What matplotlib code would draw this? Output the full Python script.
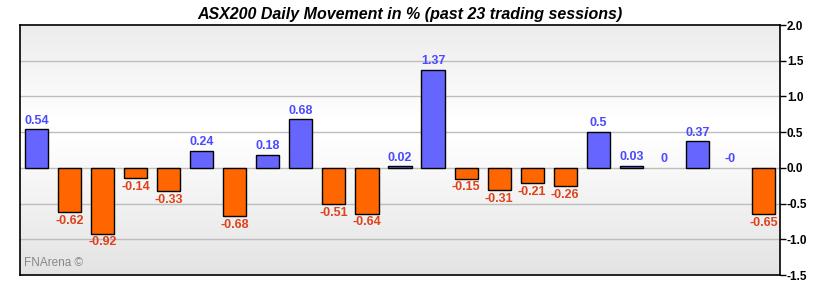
import numpy as np
import matplotlib
matplotlib.use("Agg")
import matplotlib.pyplot as plt
from matplotlib.colors import LinearSegmentedColormap

plt.rcParams['font.family'] = ['Liberation Sans', 'DejaVu Sans']

TITLE = "ASX200 Daily Movement in % (past 23 trading sessions)"
values = [0.54, -0.62, -0.92, -0.14, -0.33, 0.24, -0.68, 0.18, 0.68, -0.51, -0.64, 0.02,
          1.37, -0.15, -0.31, -0.21, -0.26, 0.5, 0.03, 0, 0.37, -0.0, -0.65]
labels = ["0.54", "-0.62", "-0.92", "-0.14", "-0.33", "0.24", "-0.68", "0.18", "0.68", "-0.51",
          "-0.64", "0.02", "1.37", "-0.15", "-0.31", "-0.21", "-0.26", "0.5", "0.03", "0", "0.37",
          "-0", "-0.65"]
yticks = [-1.5, -1.0, -0.5, 0.0, 0.5, 1.0, 1.5, 2.0]

UP, DOWN = "#6666ff", "#ff6600"
UP_TXT, DOWN_TXT = "#4a4aff", "#e0401a"

fig = plt.figure(figsize=(8.2, 2.9), dpi=100)
ax = fig.add_axes([20 / 820, 15 / 290, 760 / 820, 250 / 290])
ymin, ymax = -1.5, 2.0
n = len(values)
ax.set_xlim(-0.5, n - 0.5)
ax.set_ylim(ymin, ymax)

# background gradient: grey top, white middle, grey bottom
grad = LinearSegmentedColormap.from_list("bg", [(0, "#e3e3e3"), (0.55, "#ffffff"),
                                                (0.62, "#ffffff"), (1, "#ececec")])
ax.imshow(np.linspace(0, 1, 256).reshape(-1, 1), aspect="auto", cmap=grad,
          extent=[-0.5, n - 0.5, ymin, ymax], origin="lower", zorder=0)

for y in yticks[1:-1]:
    ax.axhline(y, color="#bdbdbd", lw=1, zorder=1)

x = np.arange(n)
colors = [UP if not labels[i].startswith("-") else DOWN for i in range(n)]
edges = ["black" if v != 0 else "none" for v in values]
ax.bar(x, values, width=0.7, color=colors, edgecolor=edges, linewidth=1, zorder=2)

for i, v in enumerate(values):
    neg = labels[i].startswith("-")
    if neg and v != 0:
        ax.annotate(labels[i], (i, v), xytext=(0, -2), textcoords="offset points",
                    ha="center", va="top", fontsize=9, fontweight="bold", color=DOWN_TXT)
    else:
        ax.annotate(labels[i], (i, v), xytext=(0, 2), textcoords="offset points",
                    ha="center", va="bottom", fontsize=9, fontweight="bold", color=UP_TXT)

ax.yaxis.tick_right()
ax.set_yticks(yticks)
ax.set_yticklabels([f"{t:.1f}" for t in yticks], fontsize=8.5, fontweight="bold")
ax.tick_params(axis="y", direction="out", length=4, width=1, pad=1)
ax.set_xticks([])
for s in ax.spines.values():
    s.set_linewidth(1.2)
    s.set_color("black")

ax.text(0.005, 0.025, "FNArena ©", transform=ax.transAxes, fontsize=8.5, color="#888888",
        ha="left", va="bottom", zorder=3)

fig.suptitle(TITLE, y=0.975, x=0.5, va="top", fontsize=11.5, fontweight="bold", style="italic")

fig.savefig("out.png", dpi=100)
